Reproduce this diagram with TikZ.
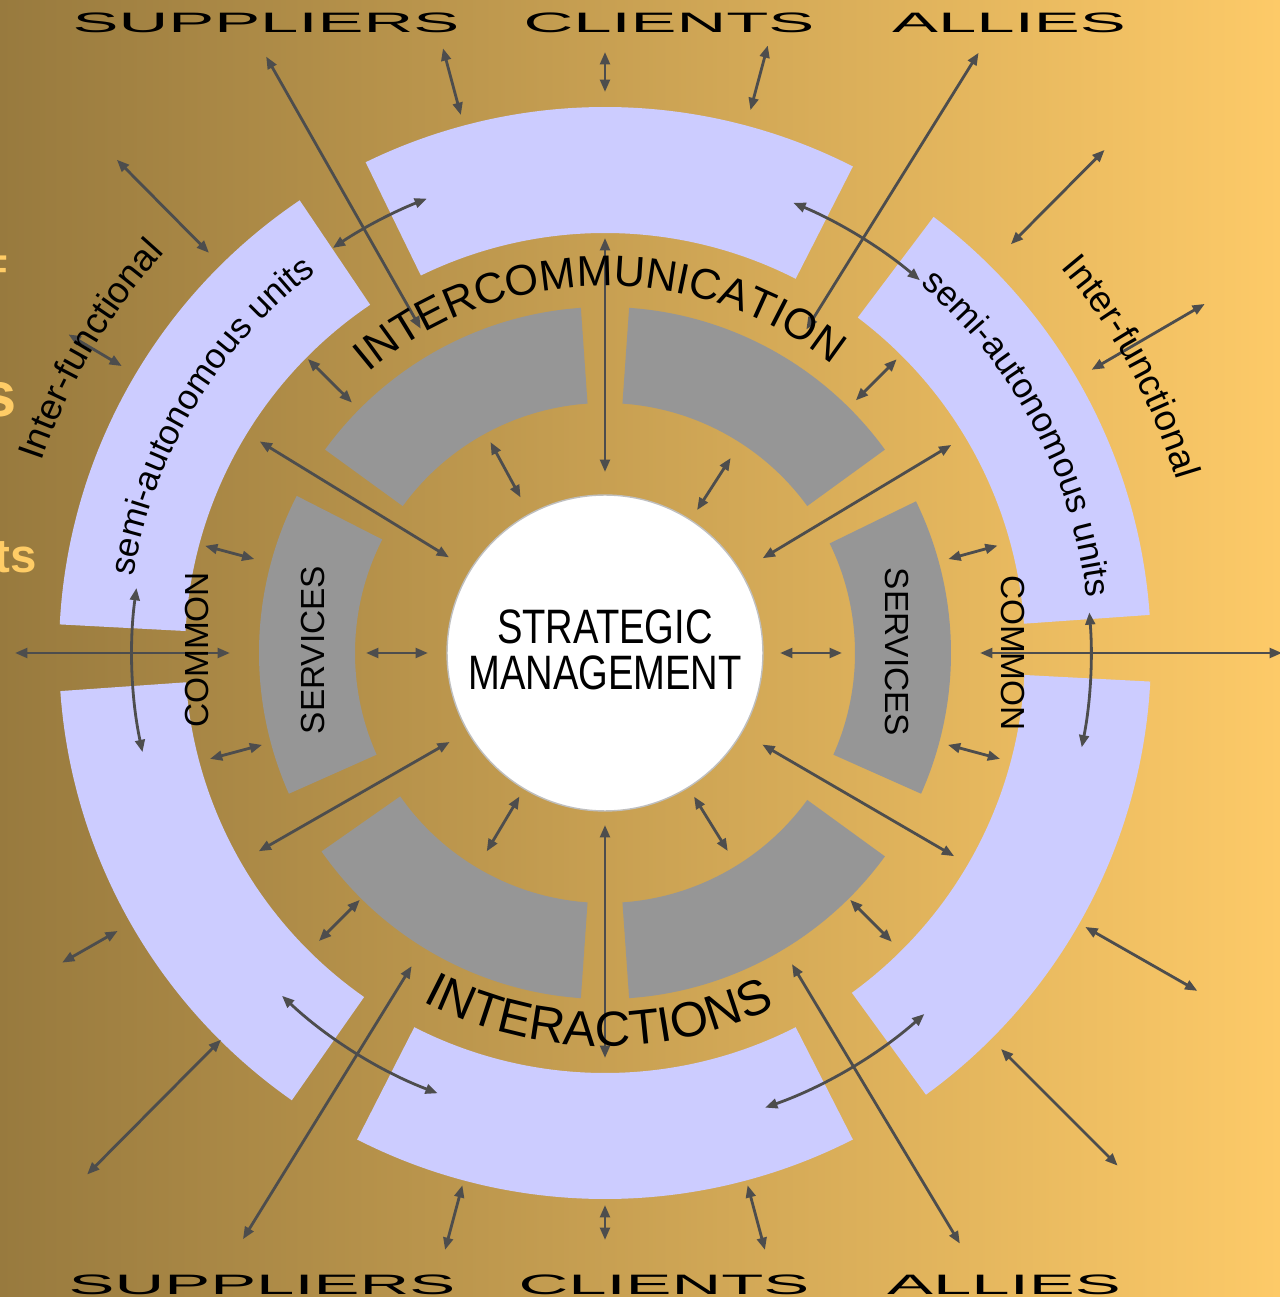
\documentclass[tikz,border=0pt]{standalone}
\usepackage{fontspec}
\setmainfont{Liberation Sans}
\usetikzlibrary{arrows.meta,decorations.text}
\definecolor{bgL}{RGB}{152,122,62}
\definecolor{bgM}{RGB}{224,178,90}
\definecolor{bgR}{RGB}{253,202,104}
\definecolor{lav}{RGB}{204,204,255}
\definecolor{segGray}{RGB}{150,150,150}
\definecolor{arrGray}{RGB}{77,77,77}
\definecolor{fragY}{RGB}{255,204,102}
\tikzset{
  arr/.style={<->, >={Triangle[length=7pt,width=5.5pt]}, draw=arrGray, line width=1.6pt},
  edge label/.style={font=\fontsize{16}{16}\selectfont, inner sep=0pt, anchor=base},
  ring label/.style={font=\fontsize{19}{19}\selectfont, inner sep=0pt},
  frag/.style={anchor=base east, inner sep=0pt, text=fragY},
}
\begin{document}
\begin{tikzpicture}[x=0.02cm, y=0.02cm]
  \useasboundingbox (-605,-644) rectangle (675,653);
  \fill[left color=bgL, middle color=bgM, right color=bgR] (-605,-644) rectangle (675,653);

  % cut-off words on the left edge
  \node[frag, font=\bfseries\fontsize{22}{22}\selectfont] (frag1) at (-597,370) {F};
  \node[frag, font=\bfseries\fontsize{36}{36}\selectfont] (frag2) at (-588,236) {s};
  \node[frag, font=\bfseries\fontsize{27}{27}\selectfont] (frag3) at (-568,80) {ts};

  % outer ring (semi-autonomous units)
  \foreach \a/\b in {63/116, 124/177, 184/235, 243/297, 306/357, 4/53}
    \fill[lav] (\a:420) arc[start angle=\a, end angle=\b, radius=420]
      -- (\b:546) arc[start angle=\b, end angle=\a, radius=546] -- cycle;

  % inner ring (services)
  \foreach \a/\b in {36/86, 94/144, 153/204, 215/266, 274/324, -24/26}
    \fill[segGray] (\a:250) arc[start angle=\a, end angle=\b, radius=250]
      -- (\b:346) arc[start angle=\b, end angle=\a, radius=346] -- cycle;

  \node[circle, fill=white, draw=gray!50, line width=0.8pt, minimum size=6.32cm, inner sep=0pt] (sm) at (0,0) {};

  % radial arrows: angle / inner radius / outer radius
  \foreach \a/\ri/\ro in {119.6/373/686, 105/557/626, 90/561/601, 75/562/629, 58.1/381/707,
      134.7/563/694, 45.2/576/709, 30.2/563/694, 149.3/562/624, 180/375/590, 0/375/677,
      209.7/561/625, 225.2/545/735, 238.3/368/689, 255/551/618, 270/552/587, 285/551/618,
      301/363/689, 315/560/725, 330.3/553/682,
      135.3/356/418, 45.2/356/414, 165/363/414, 15.3/356/407,
      195/355/409, 345/355/409, 225.2/348/406, 314.8/348/407,
      118.5/177/240, 57.2/170/232, 180/177/239, 0/175/237, 239.2/167/231, 301.8/169/233,
      90/181/415, 270/172/405, 148.5/183/405, 31/184/404, 209.8/179/399, 329.8/182/404}
    \draw[arr] (\a:\ri) -- (\a:\ro);

  % arrows across the gaps of the outer ring
  \foreach \a/\b/\r in {172.1/192.1/473, 4.8/-11.2/486, 123.9/111.4/488,
      67.3/49.8/488, 226.7/249.2/471, 289.4/311.5/482}
    \draw[arr] (\a:\r) arc[start angle=\a, end angle=\b, radius=\r];

  % texts along the rings
  \path[decorate, decoration={text along path, text align=center,
      text={|\fontsize{24.5}{24.5}\selectfont|INTERCOMMUNICATION}}]
    (136:367) arc[start angle=136, end angle=46, radius=367];
  \path[decorate, decoration={text along path, text align=center,
      text={|\fontsize{28}{28}\selectfont|INTERACTIONS}}]
    (235:393) arc[start angle=235, end angle=303, radius=393];
  \path[decorate, decoration={text along path, text align=center,
      text={|\fontsize{20}{20}\selectfont|semi-autonomous units}}]
    (179:478) arc[start angle=179, end angle=119, radius=478];
  \path[decorate, decoration={text along path, text align=center,
      text={|\fontsize{20}{20}\selectfont|semi-autonomous units}}]
    (58:485) arc[start angle=58, end angle=-2, radius=485];
  \path[decorate, decoration={text along path, text align=center,
      text={|\fontsize{21}{21}\selectfont|Inter-functional}}]
    (170:595) arc[start angle=170, end angle=129, radius=595];
  \path[decorate, decoration={text along path, text align=center,
      text={|\fontsize{21}{21}\selectfont|Inter-functional}}]
    (49:597) arc[start angle=49, end angle=8, radius=597];

  \node[ring label, rotate=90] (svcL) at (-292,3) {SERVICES};
  \node[ring label, rotate=-90] (svcR) at (292,1) {SERVICES};
  \node[ring label, rotate=90] (comL) at (-408,3) {COMMON};
  \node[ring label, rotate=-90] (comR) at (408,0) {COMMON};

  \node[anchor=base, inner sep=0pt, font=\fontsize{27.5}{27.5}\selectfont] (sm1) at (0,9) {\scalebox{0.79}[1]{STRATEGIC}};
  \node[anchor=base, inner sep=0pt, font=\fontsize{27.5}{27.5}\selectfont] (sm2) at (0,-37) {\scalebox{0.79}[1]{MANAGEMENT}};

  \node[edge label] (supT) at (-339,620) {\scalebox{2.45}[1]{SUPPLIERS}};
  \node[edge label] (cliT) at (64,620) {\scalebox{2.45}[1]{CLIENTS}};
  \node[edge label] (allT) at (404,620) {\scalebox{2.45}[1]{ALLIES}};
  \node[edge label] (supB) at (-343,-641) {\scalebox{2.45}[1]{SUPPLIERS}};
  \node[edge label] (cliB) at (59,-641) {\scalebox{2.45}[1]{CLIENTS}};
  \node[edge label] (allB) at (399,-641) {\scalebox{2.45}[1]{ALLIES}};
\end{tikzpicture}
\end{document}
